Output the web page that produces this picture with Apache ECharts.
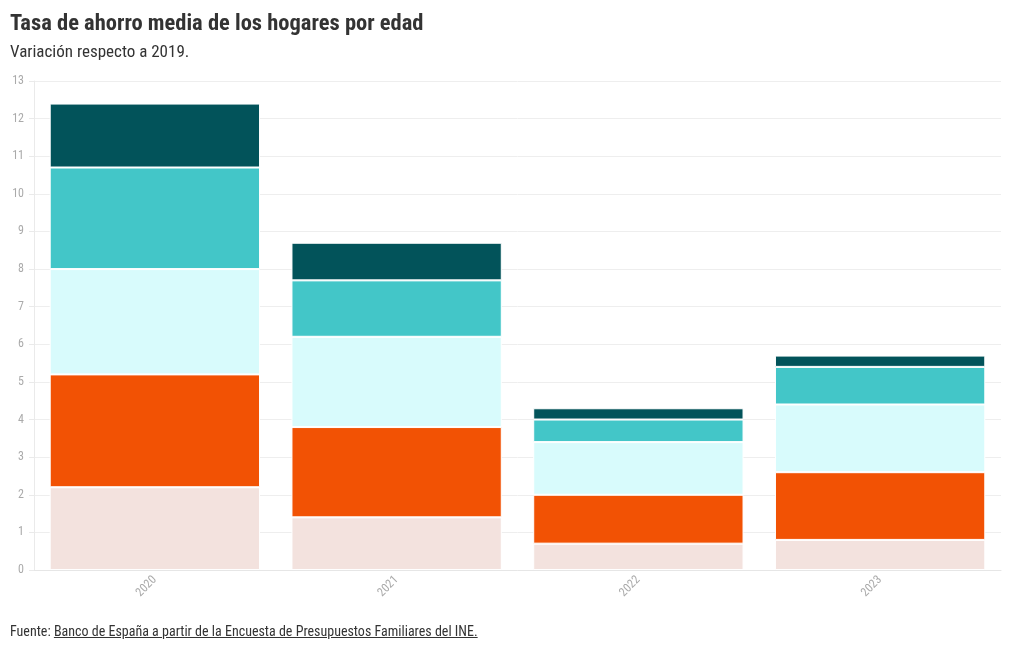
<!DOCTYPE html>
<html>
<head>
<meta charset="utf-8">
<script src="https://cdn.jsdelivr.net/npm/echarts@6/dist/echarts.min.js"></script>
<style>
  html, body { margin: 0; padding: 0; background: #fff; }
  #chart { width: 1020px; height: 650px; position: relative; }
  #foot { position: absolute; left: 10px; top: 623px; font-family: 'Roboto Condensed', 'Liberation Sans Narrow', 'Roboto', sans-serif; font-size: 14px; color: #333; }
  #foot span { text-decoration: underline; }
</style>
</head>
<body>
<div id="chart"></div>
<div id="foot">Fuente: <span>Banco de España a partir de la Encuesta de Presupuestos Familiares del INE.</span></div>
<script>
var categories = ['2020', '2021', '2022', '2023'];
var seriesNames = ['Menos de 35 años', 'De 35 a 44 años', 'De 45 a 54 años', 'De 55 a 64 años', '65 años o más'];
var s1 = [2.2, 1.4, 0.7, 0.8];
var s2 = [3.0, 2.4, 1.3, 1.8];
var s3 = [2.8, 2.4, 1.4, 1.8];
var s4 = [2.7, 1.5, 0.6, 1.0];
var s5 = [1.7, 1.0, 0.3, 0.3];
var yTicks = { min: 0, max: 13, interval: 1 };
var colors = ['#f3e2de', '#f25204', '#d8fbfc', '#43c6c8', '#02535a'];

var FONT = "'Roboto Condensed', 'Liberation Sans Narrow', 'Roboto', sans-serif";
var data = [s1, s2, s3, s4, s5];
var chart = echarts.init(document.getElementById('chart'), null, { renderer: 'canvas' });
chart.setOption({
  animation: false,
  textStyle: { fontFamily: FONT },
  title: {
    text: 'Tasa de ahorro media de los hogares por edad',
    subtext: 'Variación respecto a 2019.',
    left: 5, top: 8,
    itemGap: 8,
    textStyle: { fontFamily: FONT, fontSize: 22.5, fontWeight: 'bold', color: '#333' },
    subtextStyle: { fontFamily: FONT, fontSize: 17, color: '#333' }
  },
  grid: { left: 34, right: 19, top: 81, bottom: 80, containLabel: false },
  xAxis: {
    type: 'category',
    data: categories,
    axisLine: { lineStyle: { color: '#e6e6e6' } },
    axisTick: { alignWithLabel: true, lineStyle: { color: '#e6e6e6' }, length: 5 },
    axisLabel: { rotate: 45, color: '#aaa', fontSize: 12, fontFamily: FONT, margin: 8 }
  },
  yAxis: {
    type: 'value',
    min: yTicks.min, max: yTicks.max, interval: yTicks.interval,
    axisLine: { show: true, lineStyle: { color: '#eaeaea' } },
    axisTick: { show: true, length: 5, lineStyle: { color: '#eaeaea' } },
    axisLabel: { color: '#aaa', fontSize: 12, fontFamily: FONT, margin: 10 },
    splitLine: { lineStyle: { color: '#eeeeee' } }
  },
  series: data.map(function (d, i) {
    return {
      name: seriesNames[i],
      type: 'bar',
      stack: 'total',
      data: d,
      barWidth: '87%',
      itemStyle: { color: colors[i], borderColor: '#fff', borderWidth: 1 }
    };
  })
});
</script>
</body>
</html>
